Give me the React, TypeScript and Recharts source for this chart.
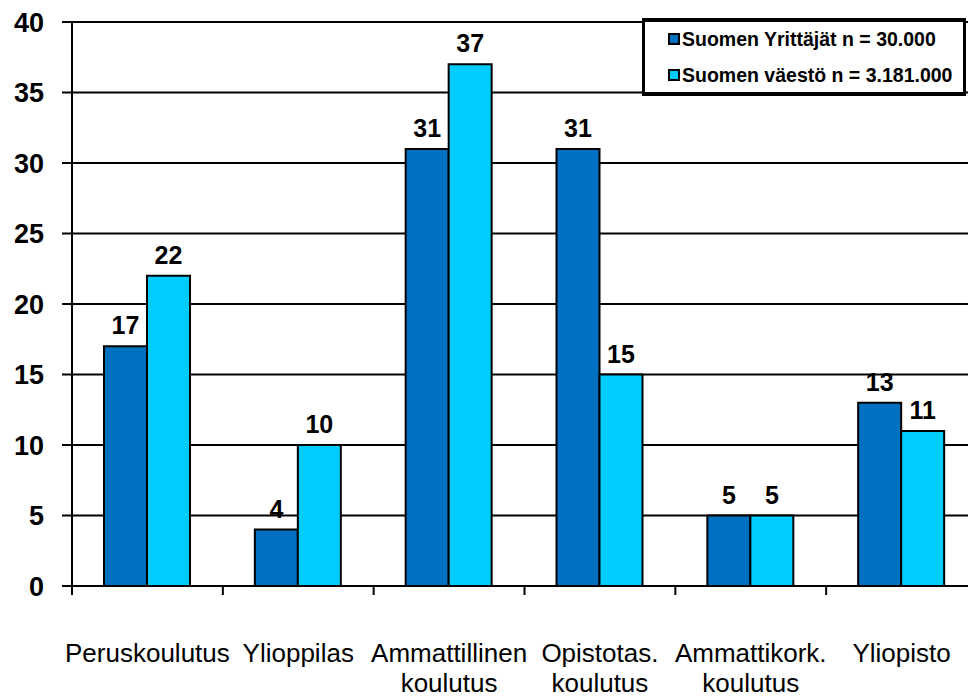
import React from "react";
import { BarChart, Bar, XAxis, YAxis, CartesianGrid, LabelList } from "recharts";

const categories: string[][] = [
  ["Peruskoulutus"],
  ["Ylioppilas"],
  ["Ammattillinen", "koulutus"],
  ["Opistotas.", "koulutus"],
  ["Ammattikork.", "koulutus"],
  ["Yliopisto"],
];
const yrittajat: number[] = [17, 4, 31, 31, 5, 13];
const vaesto: number[] = [22, 10, 37, 15, 5, 11];
const seriesNames: string[] = ["Suomen Yrittäjät n = 30.000", "Suomen väestö n = 3.181.000"];
const seriesColors: string[] = ["#0070C0", "#00CCFF"];
const yTicks: number[] = [0, 5, 10, 15, 20, 25, 30, 35, 40];

const data = categories.map((c, i) => ({
  name: c.join(" "),
  a: yrittajat[i],
  b: vaesto[i],
}));

const FONT = "'Liberation Sans', Arial, sans-serif";

const XTick = (props: any) => {
  const { x, y, payload, index } = props;
  const half = payload && payload.offset ? payload.offset : 75.4;
  const lines: string[] = categories[index] || [String(payload.value)];
  return (
    <g>
      <line x1={x - half} y1={y - 8} x2={x - half} y2={y + 1} stroke="#000" strokeWidth={2} />
      {index === categories.length - 1 && (
        <line x1={x + half} y1={y - 8} x2={x + half} y2={y + 1} stroke="#000" strokeWidth={2} />
      )}
      {lines.map((l, k) => (
        <text key={k} x={x} y={y + 68 + k * 30} textAnchor="middle" fontFamily={FONT} fontSize={26} fill="#000">
          {l}
        </text>
      ))}
    </g>
  );
};

export default function App() {
  return (
    <div style={{ position: "absolute", left: 0, top: 0, width: 968, height: 698, overflow: "hidden", background: "#fff" }}>
      <BarChart
        width={980}
        height={698}
        data={data}
        margin={{ top: 22, right: 3, bottom: 0, left: 0 }}
        barGap={0}
      >
        <CartesianGrid vertical={false} stroke="#000" strokeWidth={2} />
        <XAxis
          dataKey="name"
          height={112}
          axisLine={{ stroke: "#000", strokeWidth: 2 }}
          tickLine={false}
          tick={<XTick />}
          interval={0}
        />
        <YAxis
          width={72}
          domain={[0, 40]}
          ticks={yTicks}
          interval={0}
          axisLine={{ stroke: "#000", strokeWidth: 2 }}
          tickLine={{ stroke: "#000", strokeWidth: 2 }}
          tickSize={10}
          tickMargin={18}
          tick={{ fontFamily: FONT, fontSize: 27, fontWeight: "bold", fill: "#000" }}
        />
        <Bar dataKey="a" fill={seriesColors[0]} stroke="#000" strokeWidth={2} barSize={43} isAnimationActive={false}>
          <LabelList dataKey="a" position="top" offset={12} style={{ fontFamily: FONT, fontSize: 25, fontWeight: "bold", fill: "#000" }} />
        </Bar>
        <Bar dataKey="b" fill={seriesColors[1]} stroke="#000" strokeWidth={2} barSize={43} isAnimationActive={false}>
          <LabelList dataKey="b" position="top" offset={12} style={{ fontFamily: FONT, fontSize: 25, fontWeight: "bold", fill: "#000" }} />
        </Bar>
      </BarChart>
      <div
        style={{
          position: "absolute",
          left: 642,
          top: 18,
          width: 318,
          height: 70,
          borderTop: "4px solid #000",
          borderBottom: "4px solid #000",
          borderLeft: "3px solid #000",
          borderRight: "3px solid #000",
          background: "#fff",
          fontFamily: FONT,
          fontWeight: "bold",
          fontSize: 19.5,
        }}
      >
        {seriesNames.map((n, i) => (
          <div key={i} style={{ position: "absolute", left: 23, top: 4 + i * 36, display: "flex", alignItems: "center", height: 26, whiteSpace: "nowrap" }}>
            <span style={{ display: "inline-block", width: 8, height: 8, background: seriesColors[i], border: "2px solid #000", marginRight: 2 }} />
            <span>{n}</span>
          </div>
        ))}
      </div>
    </div>
  );
}
